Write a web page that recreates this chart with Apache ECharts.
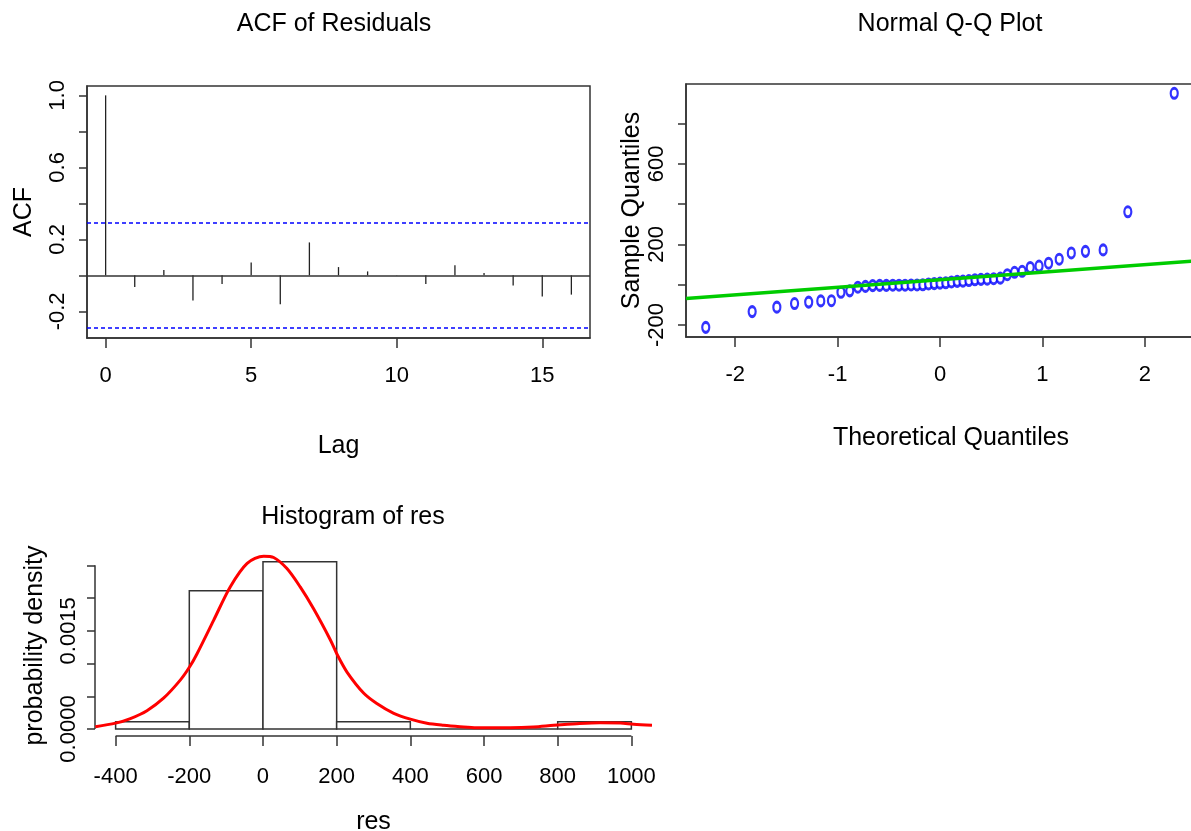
<!DOCTYPE html>
<html><head><meta charset="utf-8">
<script src="https://cdn.jsdelivr.net/npm/echarts@6/dist/echarts.min.js"></script>
<style>html,body{margin:0;padding:0;background:#fff}#c{width:1191px;height:831px}</style>
</head><body><div id="c"></div>
<script>
// ---- ACF of residuals ----
const acfLags = [0,1,2,3,4,5,6,7,8,9,10,11,12,13,14,15,16];
const acfValues = [1.0,-0.065,0.030,-0.140,-0.048,0.072,-0.160,0.183,0.046,0.022,0.002,-0.048,0.056,0.013,-0.057,-0.117,-0.107];
const acfConfLimit = 0.292;
const acfXTicks = [0,5,10,15];
const acfYTicks = [-0.2,0,0.2,0.4,0.6,0.8,1.0];
const acfYLabels = [-0.2,0.2,0.6,1.0];

// ---- Normal Q-Q plot ----
const qqTheoretical = [-2.287,-1.834,-1.593,-1.420,-1.282,-1.164,-1.060,-0.967,-0.881,-0.802,-0.728,-0.657,-0.589,-0.524,-0.461,-0.400,-0.341,-0.282,-0.224,-0.168,-0.112,-0.056,0,0.056,0.112,0.168,0.224,0.282,0.341,0.400,0.461,0.524,0.589,0.657,0.728,0.802,0.881,0.967,1.060,1.164,1.282,1.420,1.593,1.834,2.287];
const qqSample = [-211,-133,-111,-93,-86,-80,-79,-37,-30,-12,-8,-4,-3,-3,-2,-2,-2,-1,-1,0,4,6,8,10,14,17,18,21,25,27,28,30,33,50,62,67,86,93,107,127,158,166,173,362,950];
const qqLineX = [-2.48, 2.48];
const qqLineY = [-68, 118];
const qqXTicks = [-2,-1,0,1,2];
const qqYTicks = [-200,0,200,400,600,800];
const qqYLabels = [-200,200,600];

// ---- Histogram of res ----
const histBreaks = [-400,-200,0,200,400,600,800,1000];
const histDensity = [0.000111,0.002111,0.002556,0.000111,0,0,0.000111];
const densityX = [-455,-400,-360,-315,-270,-224,-199,-179,-134,-89,-43,2,29,65,101,137,183,202,228,273,309,355,400,445,490,535,580,671,734,789,852,915,970,1006,1056];
const densityY = [0.000035,0.00009,0.00016,0.00028,0.00047,0.00075,0.00095,0.00115,0.00166,0.00217,0.00253,0.00264,0.00262,0.00245,0.00217,0.00184,0.00136,0.00113,0.00087,0.00055,0.00039,0.00024,0.00015,0.000087,0.000056,0.000035,0.00002,0.00002,0.00003,0.000056,0.000081,0.000096,0.00009,0.000072,0.000056];
const histXTicks = [-400,-200,0,200,400,600,800,1000];
const histYTicks = [0,0.0005,0.001,0.0015,0.002,0.0025];
const histYLabels = [0,0.0015];

// axis ranges
const acfXRange = [-0.64, 16.64], acfYRange = [-0.348, 1.052];
const qqXRange = [-2.48, 2.48], qqYRange = [-259, 996];
const histXRange = [-456, 1056], histYRange = [-0.000107, 0.002658];

const FONT = '"Liberation Sans", Arial, Helvetica, sans-serif';
const INK = '#333';
const lab = {fontFamily: FONT, fontSize: 22, color: '#000'};
const nameStyle = {fontFamily: FONT, fontSize: 25, color: '#000'};
const titleStyle = {fontFamily: FONT, fontSize: 25, fontWeight: 'normal', color: '#000'};

function xAxisDef(grid, range, ticks, name, gap, margin, showLine, namePad) {
  return {
    gridIndex: grid, type: 'value', min: range[0], max: range[1],
    axisLine: {show: showLine, onZero: false, lineStyle: {color: INK, width: 1.5}},
    axisTick: {show: true, customValues: ticks, length: 10, lineStyle: {color: INK, width: 1.5}},
    axisLabel: Object.assign({customValues: ticks, margin: margin, formatter: v => String(v)}, lab),
    splitLine: {show: false},
    name: name, nameLocation: 'middle', nameGap: gap,
    nameTextStyle: Object.assign({padding: namePad || 0}, nameStyle)
  };
}
function yAxisDef(grid, range, ticks, labels, fmt, name, gap, margin, showLine) {
  return {
    gridIndex: grid, type: 'value', min: range[0], max: range[1],
    axisLine: {show: showLine, onZero: false, lineStyle: {color: INK, width: 1.5}},
    axisTick: {show: true, customValues: ticks, length: 8, lineStyle: {color: INK, width: 1.5}},
    axisLabel: Object.assign({customValues: labels, margin: margin, rotate: 90, formatter: fmt}, lab),
    splitLine: {show: false},
    name: name, nameLocation: 'middle', nameGap: gap, nameTextStyle: nameStyle
  };
}

const histRects = histDensity.map((d, i) => [histBreaks[i], histBreaks[i + 1], d]);

const option = {
  animation: false,
  backgroundColor: '#fff',
  title: [
    {text: 'ACF of Residuals', left: 334, top: 12, textAlign: 'center', padding: 0, textStyle: titleStyle},
    {text: 'Normal Q-Q Plot', left: 950, top: 12, textAlign: 'center', padding: 0, textStyle: titleStyle},
    {text: 'Histogram of res', left: 353, top: 505, textAlign: 'center', padding: 0, textStyle: titleStyle}
  ],
  grid: [
    {left: 87, top: 86, width: 503, height: 252, show: true, borderColor: INK, borderWidth: 1.5, backgroundColor: 'transparent', outerBoundsMode: 'none', containLabel: false},
    {left: 686, top: 84, width: 508, height: 253, show: true, borderColor: INK, borderWidth: 1.5, backgroundColor: 'transparent', outerBoundsMode: 'none', containLabel: false},
    {left: 95, top: 555, width: 557, height: 181, show: false, outerBoundsMode: 'none', containLabel: false}
  ],
  xAxis: [
    xAxisDef(0, acfXRange, acfXTicks, 'Lag', 96, 27, true),
    xAxisDef(1, qqXRange, qqXTicks, 'Theoretical Quantiles', 89, 27, true, [0, 0, 0, 22]),
    xAxisDef(2, histXRange, histXTicks, 'res', 74, 30, false)
  ],
  yAxis: [
    yAxisDef(0, acfYRange, acfYTicks, acfYLabels, v => v.toFixed(1), 'ACF', 50, 18, true),
    yAxisDef(1, qqYRange, qqYTicks, qqYLabels, v => String(v), 'Sample Quantiles', 30, 18, true),
    yAxisDef(2, histYRange, histYTicks, histYLabels, v => v.toFixed(4), 'probability density', 47, 15, false)
  ],
  series: [
    {
      type: 'bar', xAxisIndex: 0, yAxisIndex: 0, barWidth: 1.3,
      data: acfLags.map((l, i) => [l, acfValues[i]]),
      itemStyle: {color: '#222'}, silent: true,
      markLine: {
        silent: true, symbol: 'none', label: {show: false}, animation: false,
        data: [
          {yAxis: 0, lineStyle: {color: INK, width: 1.5, type: 'solid'}},
          {yAxis: acfConfLimit, lineStyle: {color: '#0000ff', width: 1.5, type: [4, 3]}},
          {yAxis: -acfConfLimit, lineStyle: {color: '#0000ff', width: 1.5, type: [4, 3]}}
        ]
      }
    },
    {
      type: 'scatter', xAxisIndex: 1, yAxisIndex: 1, z: 3,
      data: qqTheoretical.map((t, i) => [t, qqSample[i]]),
      symbol: 'circle', symbolSize: [7, 10],
      itemStyle: {color: '#fff', borderColor: '#0000ff', borderWidth: 2.6}
    },
    {
      type: 'line', xAxisIndex: 1, yAxisIndex: 1, z: 4,
      data: qqLineX.map((x, i) => [x, qqLineY[i]]),
      symbol: 'none', lineStyle: {color: '#00cc00', width: 3.5}
    },
    {
      type: 'custom', xAxisIndex: 2, yAxisIndex: 2, z: 2,
      data: histRects, encode: {x: [0, 1], y: 2},
      renderItem: function (params, api) {
        const p0 = api.coord([api.value(0), api.value(2)]);
        const p1 = api.coord([api.value(1), 0]);
        return {type: 'rect', shape: {x: p0[0], y: p0[1], width: p1[0] - p0[0], height: p1[1] - p0[1]},
                style: {fill: '#fff', stroke: INK, lineWidth: 1.5}};
      }
    },
    {
      type: 'line', xAxisIndex: 2, yAxisIndex: 2, z: 5, smooth: 0.3,
      data: densityX.map((x, i) => [x, densityY[i]]),
      symbol: 'none', lineStyle: {color: '#ff0000', width: 3}
    },
    {
      type: 'line', xAxisIndex: 2, yAxisIndex: 2, z: 3, clip: false,
      data: [[histXTicks[0], histYRange[0]], [histXTicks[histXTicks.length - 1], histYRange[0]]],
      symbol: 'none', lineStyle: {color: INK, width: 1.5}
    },
    {
      type: 'line', xAxisIndex: 2, yAxisIndex: 2, z: 3, clip: false,
      data: [[histXRange[0], histYTicks[0]], [histXRange[0], histYTicks[histYTicks.length - 1]]],
      symbol: 'none', lineStyle: {color: INK, width: 1.5}
    }
  ]
};
const chart = echarts.init(document.getElementById('c'));
chart.setOption(option);
</script>
</body></html>
